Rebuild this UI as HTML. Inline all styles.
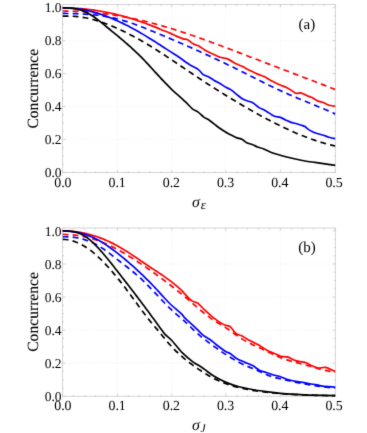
<!DOCTYPE html>
<html><head><meta charset="utf-8"><title>Concurrence</title>
<style>
html,body{margin:0;padding:0;background:#fff;}
body{width:367px;height:433px;overflow:hidden;font-family:"Liberation Serif",serif;}
svg{display:block;will-change:transform;}
text{font-family:"Liberation Serif",serif;fill:#000;text-rendering:geometricPrecision;}
</style></head><body>
<svg width="367" height="433" viewBox="0 0 367 433">
<defs><filter id="soft" x="0" y="0" width="367" height="433" filterUnits="userSpaceOnUse" color-interpolation-filters="sRGB"><feConvolveMatrix order="3" kernelMatrix="0.01 0.08 0.01 0.08 0.64 0.08 0.01 0.08 0.01" edgeMode="duplicate" preserveAlpha="true"/></filter></defs>
<g filter="url(#soft)">
<rect width="367" height="433" fill="#fff"/>
<g>
<line x1="117.55" y1="4.50" x2="117.55" y2="172.50" stroke="#eeeeee" stroke-width="0.8" stroke-dasharray="1 1.6"/>
<line x1="171.75" y1="4.50" x2="171.75" y2="172.50" stroke="#eeeeee" stroke-width="0.8" stroke-dasharray="1 1.6"/>
<line x1="225.70" y1="4.50" x2="225.70" y2="172.50" stroke="#eeeeee" stroke-width="0.8" stroke-dasharray="1 1.6"/>
<line x1="280.40" y1="4.50" x2="280.40" y2="172.50" stroke="#eeeeee" stroke-width="0.8" stroke-dasharray="1 1.6"/>
<line x1="62.70" y1="139.54" x2="335.20" y2="139.54" stroke="#eeeeee" stroke-width="0.8" stroke-dasharray="1 1.6"/>
<line x1="62.70" y1="106.58" x2="335.20" y2="106.58" stroke="#eeeeee" stroke-width="0.8" stroke-dasharray="1 1.6"/>
<line x1="62.70" y1="73.62" x2="335.20" y2="73.62" stroke="#eeeeee" stroke-width="0.8" stroke-dasharray="1 1.6"/>
<line x1="62.70" y1="40.66" x2="335.20" y2="40.66" stroke="#eeeeee" stroke-width="0.8" stroke-dasharray="1 1.6"/>
<rect x="62.50" y="4.50" width="272.85" height="168.00" fill="none" stroke="#d4d4d4" stroke-width="1"/>
<path d="M62.60 172.50 v-2.60 M62.60 4.50 v2.60 M73.59 172.50 v-1.40 M73.59 4.50 v1.40 M84.58 172.50 v-1.40 M84.58 4.50 v1.40 M95.57 172.50 v-1.40 M95.57 4.50 v1.40 M106.56 172.50 v-1.40 M106.56 4.50 v1.40 M117.55 172.50 v-2.60 M117.55 4.50 v2.60 M128.39 172.50 v-1.40 M128.39 4.50 v1.40 M139.23 172.50 v-1.40 M139.23 4.50 v1.40 M150.07 172.50 v-1.40 M150.07 4.50 v1.40 M160.91 172.50 v-1.40 M160.91 4.50 v1.40 M171.75 172.50 v-2.60 M171.75 4.50 v2.60 M182.54 172.50 v-1.40 M182.54 4.50 v1.40 M193.33 172.50 v-1.40 M193.33 4.50 v1.40 M204.12 172.50 v-1.40 M204.12 4.50 v1.40 M214.91 172.50 v-1.40 M214.91 4.50 v1.40 M225.70 172.50 v-2.60 M225.70 4.50 v2.60 M236.64 172.50 v-1.40 M236.64 4.50 v1.40 M247.58 172.50 v-1.40 M247.58 4.50 v1.40 M258.52 172.50 v-1.40 M258.52 4.50 v1.40 M269.46 172.50 v-1.40 M269.46 4.50 v1.40 M280.40 172.50 v-2.60 M280.40 4.50 v2.60 M291.38 172.50 v-1.40 M291.38 4.50 v1.40 M302.36 172.50 v-1.40 M302.36 4.50 v1.40 M313.34 172.50 v-1.40 M313.34 4.50 v1.40 M324.32 172.50 v-1.40 M324.32 4.50 v1.40 M335.30 172.50 v-2.60 M335.30 4.50 v2.60 M62.70 172.50 h2.60 M335.20 172.50 h-2.60 M62.70 164.26 h1.40 M335.20 164.26 h-1.40 M62.70 156.02 h1.40 M335.20 156.02 h-1.40 M62.70 147.78 h1.40 M335.20 147.78 h-1.40 M62.70 139.54 h2.60 M335.20 139.54 h-2.60 M62.70 131.30 h1.40 M335.20 131.30 h-1.40 M62.70 123.06 h1.40 M335.20 123.06 h-1.40 M62.70 114.82 h1.40 M335.20 114.82 h-1.40 M62.70 106.58 h2.60 M335.20 106.58 h-2.60 M62.70 98.34 h1.40 M335.20 98.34 h-1.40 M62.70 90.10 h1.40 M335.20 90.10 h-1.40 M62.70 81.86 h1.40 M335.20 81.86 h-1.40 M62.70 73.62 h2.60 M335.20 73.62 h-2.60 M62.70 65.38 h1.40 M335.20 65.38 h-1.40 M62.70 57.14 h1.40 M335.20 57.14 h-1.40 M62.70 48.90 h1.40 M335.20 48.90 h-1.40 M62.70 40.66 h2.60 M335.20 40.66 h-2.60 M62.70 32.42 h1.40 M335.20 32.42 h-1.40 M62.70 24.18 h1.40 M335.20 24.18 h-1.40 M62.70 15.94 h1.40 M335.20 15.94 h-1.40 M62.70 7.70 h2.60 M335.20 7.70 h-2.60" stroke="#c6c6c6" stroke-width="0.8" fill="none"/>
<path d="M62.70 7.89C63.26 7.89 64.64 7.90 65.20 7.91C65.76 7.92 67.14 7.94 67.70 7.95C68.26 7.97 69.64 8.01 70.20 8.03C70.76 8.05 72.14 8.10 72.70 8.13C73.26 8.16 74.64 8.23 75.20 8.26C75.76 8.29 77.14 8.38 77.70 8.42C78.26 8.46 79.64 8.56 80.20 8.60C80.76 8.65 82.14 8.77 82.70 8.82C83.26 8.87 84.64 9.01 85.20 9.06C85.76 9.12 87.14 9.27 87.70 9.33C88.26 9.40 89.64 9.56 90.20 9.63C90.76 9.70 92.14 9.88 92.70 9.96C93.26 10.04 94.64 10.23 95.20 10.31C95.76 10.40 97.14 10.61 97.70 10.70C98.26 10.79 99.64 11.01 100.20 11.11C100.76 11.20 102.14 11.45 102.70 11.55C103.26 11.65 104.64 11.91 105.20 12.02C105.76 12.12 107.14 12.40 107.70 12.51C108.26 12.62 109.64 12.91 110.20 13.03C110.76 13.15 112.14 13.46 112.70 13.58C113.26 13.71 114.64 14.03 115.20 14.16C115.76 14.29 117.14 14.63 117.70 14.77C118.26 14.90 119.64 15.26 120.20 15.40C120.76 15.54 122.14 15.91 122.70 16.06C123.26 16.21 124.64 16.59 125.20 16.75C125.76 16.91 127.14 17.30 127.70 17.47C128.26 17.63 129.64 18.04 130.20 18.21C130.76 18.38 132.14 18.81 132.70 18.98C133.26 19.16 134.64 19.60 135.20 19.78C135.76 19.96 137.14 20.42 137.70 20.61C138.26 20.79 139.64 21.27 140.20 21.46C140.76 21.65 142.14 22.14 142.70 22.34C143.26 22.54 144.64 23.04 145.20 23.25C145.76 23.45 147.14 23.97 147.70 24.18C148.26 24.39 149.64 24.93 150.20 25.14C150.76 25.36 152.14 25.90 152.70 26.12C153.26 26.34 154.64 26.90 155.20 27.12C155.76 27.35 157.14 27.91 157.70 28.14C158.26 28.37 159.64 28.94 160.20 29.17C160.76 29.40 161.61 29.77 162.70 30.21C163.79 30.65 168.42 32.46 170.00 33.15C171.58 33.84 175.43 35.77 176.90 36.40C178.37 37.03 182.04 38.51 183.20 38.85C184.36 39.19 186.16 38.92 187.30 39.50C188.44 40.08 192.27 43.40 193.50 44.10C194.73 44.80 197.17 45.16 198.40 45.80C199.63 46.44 203.13 49.06 204.60 49.90C206.07 50.74 209.89 52.58 211.60 53.40C213.31 54.22 218.30 56.72 220.00 57.30C221.70 57.88 225.06 57.84 226.90 58.60C228.74 59.36 234.90 63.24 236.60 64.10C238.30 64.96 240.97 65.71 242.20 66.30C243.43 66.89 246.48 68.78 247.70 69.40C248.92 70.02 251.97 71.32 253.20 71.90C254.43 72.48 257.57 74.13 258.80 74.65C260.03 75.17 263.06 76.01 264.30 76.60C265.54 77.19 268.88 79.38 270.00 80.00C271.12 80.62 273.26 81.64 274.40 82.20C275.54 82.76 278.91 84.39 280.30 85.00C281.69 85.61 285.71 87.13 286.90 87.70C288.09 88.27 290.00 89.48 291.00 90.10C292.00 90.72 294.82 92.99 295.90 93.30C296.98 93.61 299.69 92.75 300.70 92.90C301.71 93.05 304.19 94.29 305.00 94.65C305.81 95.01 307.17 95.76 308.00 96.10C308.83 96.44 311.39 97.14 312.50 97.70C313.61 98.26 316.79 100.57 318.00 101.10C319.21 101.63 322.19 102.04 323.40 102.50C324.61 102.96 327.59 104.79 328.90 105.20C330.21 105.61 333.80 105.98 335.20 106.20" fill="none" stroke="#f00" stroke-width="1.7" stroke-linejoin="round"/>
<path d="M62.70 11.02C63.53 11.02 64.37 11.03 65.20 11.03C66.03 11.04 66.87 11.06 67.70 11.07C68.53 11.09 69.37 11.10 70.20 11.12C71.03 11.15 71.87 11.17 72.70 11.20C73.53 11.23 74.37 11.26 75.20 11.29C76.03 11.32 76.87 11.36 77.70 11.40C78.53 11.44 79.37 11.48 80.20 11.53C81.03 11.58 81.87 11.63 82.70 11.68C83.53 11.73 84.37 11.79 85.20 11.85C86.03 11.90 86.87 11.97 87.70 12.03C88.53 12.10 89.37 12.16 90.20 12.23C91.03 12.31 91.87 12.38 92.70 12.46C93.53 12.53 94.37 12.62 95.20 12.70C96.03 12.78 96.87 12.87 97.70 12.96C98.53 13.05 99.37 13.14 100.20 13.24C101.03 13.33 101.87 13.43 102.70 13.53C103.53 13.63 104.37 13.74 105.20 13.85C106.03 13.95 106.87 14.07 107.70 14.18C108.53 14.29 109.37 14.41 110.20 14.53C111.03 14.65 111.87 14.77 112.70 14.90C113.53 15.03 114.37 15.15 115.20 15.29C116.03 15.42 116.87 15.55 117.70 15.69C118.53 15.83 119.37 15.97 120.20 16.12C121.03 16.26 121.87 16.41 122.70 16.56C123.53 16.71 124.37 16.86 125.20 17.02C126.03 17.17 126.87 17.33 127.70 17.49C128.53 17.65 129.37 17.82 130.20 17.99C131.03 18.16 131.87 18.33 132.70 18.50C133.53 18.67 134.37 18.85 135.20 19.03C136.03 19.21 136.87 19.39 137.70 19.58C138.53 19.76 139.37 19.95 140.20 20.14C141.03 20.34 141.87 20.53 142.70 20.73C143.53 20.93 144.37 21.13 145.20 21.33C146.03 21.53 146.87 21.74 147.70 21.95C148.53 22.16 149.37 22.37 150.20 22.58C151.03 22.80 151.87 23.01 152.70 23.23C153.53 23.45 154.37 23.68 155.20 23.90C156.03 24.13 156.87 24.35 157.70 24.58C158.53 24.82 159.37 25.05 160.20 25.28C161.03 25.52 161.87 25.76 162.70 26.00C163.53 26.24 164.37 26.48 165.20 26.72C166.03 26.97 166.87 27.22 167.70 27.47C168.53 27.72 169.37 27.97 170.20 28.22C171.03 28.48 171.87 28.73 172.70 28.99C173.53 29.25 174.37 29.51 175.20 29.77C176.03 30.03 176.87 30.30 177.70 30.56C178.53 30.83 179.37 31.10 180.20 31.37C181.03 31.64 181.87 31.91 182.70 32.19C183.53 32.46 184.37 32.74 185.20 33.01C186.03 33.29 186.87 33.57 187.70 33.85C188.53 34.13 189.37 34.41 190.20 34.70C191.03 34.98 191.87 35.27 192.70 35.56C193.53 35.84 194.37 36.13 195.20 36.42C196.03 36.71 196.87 37.00 197.70 37.30C198.53 37.59 199.37 37.89 200.20 38.18C201.03 38.48 201.87 38.77 202.70 39.07C203.53 39.37 204.37 39.67 205.20 39.97C206.03 40.27 206.87 40.57 207.70 40.88C208.53 41.18 209.37 41.49 210.20 41.79C211.03 42.10 211.87 42.40 212.70 42.71C213.53 43.02 214.37 43.32 215.20 43.63C216.03 43.94 216.87 44.25 217.70 44.56C218.53 44.87 219.37 45.19 220.20 45.50C221.03 45.81 221.87 46.12 222.70 46.44C223.53 46.75 224.37 47.07 225.20 47.38C226.03 47.70 226.87 48.01 227.70 48.33C228.53 48.64 229.37 48.96 230.20 49.28C231.03 49.59 231.87 49.91 232.70 50.23C233.53 50.55 234.37 50.87 235.20 51.19C236.03 51.50 236.87 51.82 237.70 52.14C238.53 52.46 239.37 52.78 240.20 53.10C241.03 53.42 241.87 53.74 242.70 54.06C243.53 54.38 244.37 54.70 245.20 55.02C246.03 55.34 246.87 55.66 247.70 55.98C248.53 56.30 249.37 56.62 250.20 56.94C251.03 57.26 251.87 57.58 252.70 57.90C253.53 58.22 254.37 58.54 255.20 58.85C256.03 59.17 256.87 59.49 257.70 59.81C258.53 60.13 259.37 60.45 260.20 60.77C261.03 61.09 261.87 61.40 262.70 61.72C263.53 62.04 264.37 62.36 265.20 62.68C266.03 62.99 266.87 63.31 267.70 63.63C268.53 63.95 269.37 64.26 270.20 64.58C271.03 64.90 271.87 65.22 272.70 65.53C273.53 65.85 274.37 66.17 275.20 66.49C276.03 66.80 276.87 67.12 277.70 67.44C278.53 67.76 279.37 68.07 280.20 68.39C281.03 68.71 281.87 69.02 282.70 69.34C283.53 69.66 284.37 69.98 285.20 70.29C286.03 70.61 286.87 70.93 287.70 71.25C288.53 71.56 289.37 71.88 290.20 72.20C291.03 72.51 291.87 72.83 292.70 73.15C293.53 73.47 294.37 73.78 295.20 74.10C296.03 74.42 296.87 74.74 297.70 75.06C298.53 75.37 299.37 75.69 300.20 76.01C301.03 76.33 301.87 76.65 302.70 76.96C303.53 77.28 304.37 77.60 305.20 77.92C306.03 78.24 306.87 78.56 307.70 78.88C308.53 79.19 309.37 79.51 310.20 79.83C311.03 80.15 311.87 80.47 312.70 80.79C313.53 81.11 314.37 81.43 315.20 81.75C316.03 82.07 316.87 82.39 317.70 82.71C318.53 83.03 319.37 83.35 320.20 83.67C321.03 83.99 321.87 84.32 322.70 84.64C323.53 84.96 324.37 85.28 325.20 85.60C326.03 85.92 326.87 86.25 327.70 86.57C328.53 86.89 329.37 87.22 330.20 87.54C331.03 87.86 331.87 88.19 332.70 88.51C333.53 88.83 334.37 89.16 335.20 89.48" fill="none" stroke="#f00" stroke-width="1.7" stroke-linejoin="round" stroke-dasharray="5.8 4.2"/>
<path d="M62.70 7.80C63.26 7.80 64.64 7.81 65.20 7.82C65.76 7.84 67.14 7.88 67.70 7.91C68.26 7.93 69.64 8.01 70.20 8.05C70.76 8.09 72.14 8.20 72.70 8.25C73.26 8.30 74.64 8.44 75.20 8.51C75.76 8.57 77.14 8.75 77.70 8.82C78.26 8.90 79.64 9.11 80.20 9.20C80.76 9.29 82.14 9.53 82.70 9.63C83.26 9.73 84.64 10.00 85.20 10.11C85.76 10.23 87.14 10.53 87.70 10.66C88.26 10.78 89.64 11.11 90.20 11.25C90.76 11.39 92.14 11.75 92.70 11.90C93.26 12.05 94.64 12.44 95.20 12.60C95.76 12.76 97.14 13.18 97.70 13.35C98.26 13.52 99.64 13.96 100.20 14.15C100.76 14.33 102.14 14.80 102.70 14.99C103.26 15.19 104.64 15.68 105.20 15.89C105.76 16.09 107.14 16.61 107.70 16.82C108.26 17.04 109.64 17.58 110.20 17.81C110.76 18.03 112.14 18.60 112.70 18.84C113.26 19.07 114.64 19.66 115.20 19.90C115.76 20.15 117.14 20.76 117.70 21.01C118.26 21.27 119.64 21.91 120.20 22.17C120.76 22.43 122.14 23.09 122.70 23.36C123.26 23.62 124.64 24.31 125.20 24.58C125.76 24.86 127.14 25.56 127.70 25.85C128.26 26.13 129.64 26.85 130.20 27.15C130.76 27.44 132.14 28.18 132.70 28.48C133.26 28.78 134.64 29.54 135.20 29.85C135.76 30.16 137.14 30.94 137.70 31.25C138.26 31.56 139.64 32.36 140.20 32.68C140.76 33.00 142.14 33.81 142.70 34.14C143.26 34.47 144.64 35.30 145.20 35.63C145.76 35.97 147.14 36.81 147.70 37.15C148.26 37.49 149.64 38.35 150.20 38.69C150.76 39.04 152.14 39.91 152.70 40.26C153.26 40.61 154.64 41.48 155.20 41.84C155.76 42.19 157.14 43.08 157.70 43.44C158.26 43.79 159.64 44.69 160.20 45.05C160.76 45.40 161.61 45.96 162.70 46.67C163.79 47.37 168.42 50.36 170.00 51.36C171.58 52.37 175.36 54.66 176.90 55.70C178.44 56.74 182.36 59.62 183.90 60.70C185.44 61.78 189.19 64.41 190.80 65.40C192.41 66.39 197.02 68.58 198.40 69.60C199.78 70.62 202.04 73.79 203.20 74.60C204.36 75.41 207.57 76.26 208.80 76.90C210.03 77.54 213.06 79.66 214.30 80.40C215.54 81.14 218.76 82.87 220.00 83.60C221.24 84.33 224.27 86.30 225.50 87.00C226.73 87.70 229.87 89.09 231.10 89.90C232.33 90.71 235.37 93.32 236.60 94.30C237.83 95.28 240.97 98.01 242.20 98.75C243.43 99.49 246.48 100.54 247.70 101.00C248.92 101.46 251.94 102.17 253.20 102.90C254.46 103.63 257.88 106.87 259.00 107.60C260.12 108.33 262.20 108.91 263.30 109.50C264.40 110.09 267.67 112.14 268.90 112.90C270.13 113.66 273.13 115.80 274.40 116.30C275.67 116.80 279.07 117.00 280.30 117.40C281.53 117.80 284.31 119.34 285.50 119.90C286.69 120.46 289.77 121.98 291.00 122.40C292.23 122.82 295.42 123.38 296.60 123.70C297.78 124.02 300.67 124.99 301.60 125.30C302.53 125.61 304.29 126.08 305.00 126.50C305.71 126.92 307.17 128.51 308.00 129.10C308.83 129.69 311.39 131.28 312.50 131.80C313.61 132.32 316.79 133.42 318.00 133.80C319.21 134.18 322.19 134.82 323.40 135.20C324.61 135.58 327.59 136.82 328.90 137.20C330.21 137.58 333.80 138.29 335.20 138.60" fill="none" stroke="#00f" stroke-width="1.7" stroke-linejoin="round"/>
<path d="M62.70 13.46C63.53 13.46 64.37 13.46 65.20 13.47C66.03 13.47 66.87 13.48 67.70 13.49C68.53 13.50 69.37 13.51 70.20 13.53C71.03 13.55 71.87 13.57 72.70 13.59C73.53 13.61 74.37 13.63 75.20 13.66C76.03 13.69 76.87 13.72 77.70 13.75C78.53 13.78 79.37 13.82 80.20 13.86C81.03 13.90 81.87 13.94 82.70 13.99C83.53 14.03 84.37 14.08 85.20 14.13C86.03 14.19 86.87 14.24 87.70 14.31C88.53 14.37 89.37 14.43 90.20 14.50C91.03 14.58 91.87 14.65 92.70 14.73C93.53 14.81 94.37 14.90 95.20 14.99C96.03 15.08 96.87 15.17 97.70 15.27C98.53 15.37 99.37 15.48 100.20 15.59C101.03 15.71 101.87 15.82 102.70 15.95C103.53 16.08 104.37 16.21 105.20 16.34C106.03 16.48 106.87 16.63 107.70 16.78C108.53 16.93 109.37 17.09 110.20 17.25C111.03 17.42 111.87 17.59 112.70 17.77C113.53 17.95 114.37 18.14 115.20 18.34C116.03 18.53 116.87 18.74 117.70 18.95C118.53 19.16 119.37 19.38 120.20 19.61C121.03 19.84 121.87 20.07 122.70 20.32C123.53 20.56 124.37 20.81 125.20 21.07C126.03 21.32 126.87 21.59 127.70 21.86C128.53 22.13 129.37 22.41 130.20 22.69C131.03 22.97 131.87 23.26 132.70 23.55C133.53 23.84 134.37 24.14 135.20 24.44C136.03 24.75 136.87 25.06 137.70 25.37C138.53 25.68 139.37 26.00 140.20 26.31C141.03 26.63 141.87 26.96 142.70 27.28C143.53 27.61 144.37 27.94 145.20 28.27C146.03 28.60 146.87 28.94 147.70 29.27C148.53 29.61 149.37 29.95 150.20 30.29C151.03 30.63 151.87 30.97 152.70 31.32C153.53 31.66 154.37 32.00 155.20 32.35C156.03 32.69 156.87 33.04 157.70 33.38C158.53 33.73 159.37 34.08 160.20 34.43C161.03 34.77 161.87 35.12 162.70 35.47C163.53 35.82 164.37 36.17 165.20 36.52C166.03 36.87 166.87 37.23 167.70 37.58C168.53 37.93 169.37 38.29 170.20 38.64C171.03 38.99 171.87 39.35 172.70 39.71C173.53 40.06 174.37 40.42 175.20 40.78C176.03 41.13 176.87 41.49 177.70 41.85C178.53 42.21 179.37 42.57 180.20 42.93C181.03 43.30 181.87 43.66 182.70 44.02C183.53 44.39 184.37 44.75 185.20 45.12C186.03 45.48 186.87 45.85 187.70 46.21C188.53 46.58 189.37 46.95 190.20 47.32C191.03 47.69 191.87 48.06 192.70 48.43C193.53 48.80 194.37 49.17 195.20 49.54C196.03 49.92 196.87 50.29 197.70 50.67C198.53 51.04 199.37 51.42 200.20 51.80C201.03 52.17 201.87 52.55 202.70 52.93C203.53 53.31 204.37 53.69 205.20 54.07C206.03 54.45 206.87 54.84 207.70 55.22C208.53 55.61 209.37 55.99 210.20 56.38C211.03 56.76 211.87 57.15 212.70 57.54C213.53 57.93 214.37 58.32 215.20 58.71C216.03 59.10 216.87 59.49 217.70 59.88C218.53 60.27 219.37 60.67 220.20 61.06C221.03 61.46 221.87 61.86 222.70 62.25C223.53 62.65 224.37 63.05 225.20 63.45C226.03 63.85 226.87 64.25 227.70 64.66C228.53 65.06 229.37 65.46 230.20 65.87C231.03 66.27 231.87 66.68 232.70 67.09C233.53 67.49 234.37 67.90 235.20 68.31C236.03 68.72 236.87 69.13 237.70 69.54C238.53 69.95 239.37 70.37 240.20 70.78C241.03 71.19 241.87 71.61 242.70 72.02C243.53 72.44 244.37 72.86 245.20 73.27C246.03 73.69 246.87 74.11 247.70 74.53C248.53 74.95 249.37 75.37 250.20 75.79C251.03 76.21 251.87 76.63 252.70 77.05C253.53 77.47 254.37 77.89 255.20 78.32C256.03 78.74 256.87 79.17 257.70 79.59C258.53 80.01 259.37 80.44 260.20 80.86C261.03 81.28 261.87 81.70 262.70 82.12C263.53 82.54 264.37 82.96 265.20 83.38C266.03 83.80 266.87 84.21 267.70 84.62C268.53 85.04 269.37 85.44 270.20 85.85C271.03 86.25 271.87 86.65 272.70 87.05C273.53 87.45 274.37 87.84 275.20 88.24C276.03 88.63 276.87 89.02 277.70 89.40C278.53 89.79 279.37 90.17 280.20 90.55C281.03 90.93 281.87 91.30 282.70 91.68C283.53 92.05 284.37 92.42 285.20 92.79C286.03 93.16 286.87 93.52 287.70 93.89C288.53 94.25 289.37 94.61 290.20 94.97C291.03 95.33 291.87 95.69 292.70 96.05C293.53 96.40 294.37 96.76 295.20 97.11C296.03 97.46 296.87 97.81 297.70 98.16C298.53 98.51 299.37 98.86 300.20 99.21C301.03 99.56 301.87 99.90 302.70 100.25C303.53 100.59 304.37 100.93 305.20 101.28C306.03 101.62 306.87 101.96 307.70 102.30C308.53 102.65 309.37 102.99 310.20 103.33C311.03 103.67 311.87 104.01 312.70 104.35C313.53 104.69 314.37 105.03 315.20 105.38C316.03 105.72 316.87 106.06 317.70 106.41C318.53 106.75 319.37 107.10 320.20 107.44C321.03 107.79 321.87 108.14 322.70 108.49C323.53 108.84 324.37 109.19 325.20 109.54C326.03 109.90 326.87 110.25 327.70 110.61C328.53 110.97 329.37 111.33 330.20 111.69C331.03 112.06 331.87 112.42 332.70 112.79C333.53 113.17 334.37 113.54 335.20 113.92" fill="none" stroke="#00f" stroke-width="1.7" stroke-linejoin="round" stroke-dasharray="5.8 4.2"/>
<path d="M62.70 7.86C63.26 7.86 64.64 7.87 65.20 7.88C65.76 7.90 67.14 7.95 67.70 7.98C68.26 8.00 69.64 8.10 70.20 8.15C70.76 8.20 72.14 8.35 72.70 8.43C73.26 8.50 74.64 8.72 75.20 8.82C75.76 8.92 77.14 9.21 77.70 9.34C78.26 9.47 79.64 9.84 80.20 10.01C80.76 10.17 82.14 10.63 82.70 10.83C83.26 11.03 84.64 11.59 85.20 11.83C85.76 12.07 87.14 12.73 87.70 13.01C88.26 13.30 89.64 14.07 90.20 14.40C90.76 14.73 92.14 15.62 92.70 15.99C93.26 16.36 94.64 17.35 95.20 17.76C95.76 18.16 97.14 19.22 97.70 19.65C98.26 20.08 99.64 21.19 100.20 21.63C100.76 22.08 102.14 23.21 102.70 23.67C103.26 24.12 104.64 25.25 105.20 25.71C105.76 26.16 107.14 27.29 107.70 27.74C108.26 28.20 109.64 29.33 110.20 29.78C110.76 30.23 112.14 31.37 112.70 31.82C113.26 32.28 114.64 33.42 115.20 33.88C115.76 34.34 117.14 35.49 117.70 35.95C118.26 36.41 119.64 37.57 120.20 38.04C120.76 38.51 122.14 39.69 122.70 40.16C123.26 40.63 124.64 41.83 125.20 42.31C125.76 42.79 127.14 44.00 127.70 44.49C128.26 44.99 129.64 46.22 130.20 46.72C130.76 47.22 132.14 48.49 132.70 49.00C133.26 49.51 134.64 50.80 135.20 51.32C135.76 51.84 137.14 53.17 137.70 53.70C138.26 54.24 139.64 55.60 140.20 56.15C140.76 56.70 142.14 58.09 142.70 58.66C143.26 59.23 144.64 60.66 145.20 61.24C145.76 61.83 147.14 63.30 147.70 63.90C148.26 64.49 149.64 65.99 150.20 66.60C150.76 67.20 152.14 68.72 152.70 69.33C153.26 69.94 154.64 71.47 155.20 72.08C155.76 72.69 157.14 74.22 157.70 74.82C158.26 75.43 159.64 76.94 160.20 77.54C160.76 78.14 162.14 79.63 162.70 80.21C163.26 80.80 164.21 81.80 165.20 82.83C166.19 83.86 170.28 88.17 171.65 89.48C173.02 90.79 175.93 93.19 177.50 94.60C179.07 96.01 184.11 100.59 185.80 102.20C187.49 103.81 191.32 108.00 192.70 109.10C194.08 110.20 196.97 111.21 198.20 112.10C199.43 112.99 202.57 116.20 203.80 117.10C205.03 118.00 208.06 119.37 209.30 120.20C210.54 121.03 214.00 123.82 215.00 124.60C216.00 125.38 217.13 126.39 218.30 127.20C219.47 128.01 223.96 130.98 225.50 131.90C227.04 132.82 230.92 134.84 232.20 135.50C233.48 136.16 235.92 137.44 237.00 137.85C238.08 138.26 240.82 138.66 241.90 139.20C242.98 139.74 245.48 142.08 246.70 142.70C247.92 143.32 251.70 144.32 252.90 144.80C254.10 145.28 256.34 146.56 257.50 147.00C258.66 147.44 261.89 148.24 263.30 148.80C264.71 149.36 268.31 151.29 270.20 152.00C272.09 152.71 277.99 154.53 280.30 155.20C282.61 155.87 288.26 157.36 291.00 158.00C293.74 158.64 302.33 160.51 305.00 161.00C307.67 161.49 312.78 162.08 315.00 162.40C317.22 162.72 322.76 163.57 325.00 163.90C327.24 164.23 332.93 165.07 335.20 165.40" fill="none" stroke="#000" stroke-width="1.7" stroke-linejoin="round"/>
<path d="M62.70 16.06C63.53 16.06 64.37 16.05 65.20 16.05C66.03 16.06 66.87 16.06 67.70 16.07C68.53 16.09 69.37 16.11 70.20 16.13C71.03 16.16 71.87 16.20 72.70 16.24C73.53 16.29 74.37 16.34 75.20 16.41C76.03 16.48 76.87 16.55 77.70 16.64C78.53 16.74 79.37 16.84 80.20 16.95C81.03 17.07 81.87 17.19 82.70 17.33C83.53 17.47 84.37 17.62 85.20 17.78C86.03 17.94 86.87 18.11 87.70 18.29C88.53 18.47 89.37 18.66 90.20 18.86C91.03 19.06 91.87 19.28 92.70 19.50C93.53 19.72 94.37 19.95 95.20 20.19C96.03 20.43 96.87 20.67 97.70 20.93C98.53 21.19 99.37 21.45 100.20 21.73C101.03 22.00 101.87 22.28 102.70 22.57C103.53 22.86 104.37 23.16 105.20 23.46C106.03 23.77 106.87 24.08 107.70 24.40C108.53 24.72 109.37 25.05 110.20 25.38C111.03 25.71 111.87 26.06 112.70 26.40C113.53 26.75 114.37 27.11 115.20 27.47C116.03 27.83 116.87 28.20 117.70 28.57C118.53 28.94 119.37 29.32 120.20 29.71C121.03 30.10 121.87 30.49 122.70 30.89C123.53 31.29 124.37 31.69 125.20 32.10C126.03 32.51 126.87 32.93 127.70 33.35C128.53 33.77 129.37 34.20 130.20 34.64C131.03 35.07 131.87 35.51 132.70 35.95C133.53 36.40 134.37 36.84 135.20 37.30C136.03 37.75 136.87 38.21 137.70 38.68C138.53 39.14 139.37 39.61 140.20 40.09C141.03 40.56 141.87 41.04 142.70 41.52C143.53 42.00 144.37 42.49 145.20 42.99C146.03 43.48 146.87 43.97 147.70 44.47C148.53 44.98 149.37 45.48 150.20 45.99C151.03 46.50 151.87 47.01 152.70 47.53C153.53 48.05 154.37 48.57 155.20 49.09C156.03 49.61 156.87 50.14 157.70 50.67C158.53 51.20 159.37 51.74 160.20 52.28C161.03 52.82 161.87 53.36 162.70 53.90C163.53 54.44 164.37 54.99 165.20 55.54C166.03 56.09 166.87 56.64 167.70 57.19C168.53 57.74 169.37 58.30 170.20 58.85C171.03 59.41 171.87 59.97 172.70 60.53C173.53 61.09 174.37 61.65 175.20 62.21C176.03 62.77 176.87 63.34 177.70 63.90C178.53 64.46 179.37 65.03 180.20 65.59C181.03 66.16 181.87 66.72 182.70 67.29C183.53 67.85 184.37 68.42 185.20 68.98C186.03 69.55 186.87 70.11 187.70 70.68C188.53 71.24 189.37 71.80 190.20 72.36C191.03 72.93 191.87 73.49 192.70 74.05C193.53 74.61 194.37 75.16 195.20 75.72C196.03 76.28 196.87 76.83 197.70 77.38C198.53 77.94 199.37 78.49 200.20 79.04C201.03 79.58 201.87 80.13 202.70 80.68C203.53 81.22 204.37 81.76 205.20 82.30C206.03 82.84 206.87 83.38 207.70 83.92C208.53 84.46 209.37 84.99 210.20 85.52C211.03 86.06 211.87 86.59 212.70 87.12C213.53 87.65 214.37 88.18 215.20 88.70C216.03 89.23 216.87 89.75 217.70 90.27C218.53 90.79 219.37 91.32 220.20 91.83C221.03 92.35 221.87 92.87 222.70 93.38C223.53 93.90 224.37 94.41 225.20 94.93C226.03 95.44 226.87 95.95 227.70 96.46C228.53 96.96 229.37 97.47 230.20 97.98C231.03 98.48 231.87 98.99 232.70 99.49C233.53 99.99 234.37 100.49 235.20 100.99C236.03 101.49 236.87 101.99 237.70 102.48C238.53 102.98 239.37 103.47 240.20 103.97C241.03 104.46 241.87 104.95 242.70 105.44C243.53 105.93 244.37 106.42 245.20 106.91C246.03 107.40 246.87 107.88 247.70 108.37C248.53 108.85 249.37 109.33 250.20 109.82C251.03 110.30 251.87 110.78 252.70 111.25C253.53 111.73 254.37 112.20 255.20 112.67C256.03 113.14 256.87 113.61 257.70 114.08C258.53 114.54 259.37 115.00 260.20 115.45C261.03 115.91 261.87 116.36 262.70 116.81C263.53 117.25 264.37 117.70 265.20 118.14C266.03 118.58 266.87 119.01 267.70 119.45C268.53 119.88 269.37 120.31 270.20 120.74C271.03 121.17 271.87 121.59 272.70 122.01C273.53 122.44 274.37 122.85 275.20 123.27C276.03 123.69 276.87 124.10 277.70 124.51C278.53 124.93 279.37 125.34 280.20 125.74C281.03 126.15 281.87 126.56 282.70 126.96C283.53 127.36 284.37 127.76 285.20 128.16C286.03 128.56 286.87 128.95 287.70 129.34C288.53 129.73 289.37 130.11 290.20 130.49C291.03 130.87 291.87 131.25 292.70 131.62C293.53 131.99 294.37 132.35 295.20 132.71C296.03 133.08 296.87 133.43 297.70 133.78C298.53 134.14 299.37 134.48 300.20 134.82C301.03 135.17 301.87 135.50 302.70 135.83C303.53 136.17 304.37 136.49 305.20 136.81C306.03 137.14 306.87 137.45 307.70 137.76C308.53 138.07 309.37 138.38 310.20 138.68C311.03 138.98 311.87 139.28 312.70 139.57C313.53 139.86 314.37 140.14 315.20 140.42C316.03 140.70 316.87 140.97 317.70 141.24C318.53 141.51 319.37 141.77 320.20 142.02C321.03 142.28 321.87 142.53 322.70 142.78C323.53 143.02 324.37 143.26 325.20 143.49C326.03 143.72 326.87 143.95 327.70 144.17C328.53 144.39 329.37 144.61 330.20 144.82C331.03 145.03 331.87 145.23 332.70 145.42C333.53 145.62 334.37 145.80 335.20 145.99" fill="none" stroke="#000" stroke-width="1.7" stroke-linejoin="round" stroke-dasharray="5.8 4.2"/>
<text x="61.50" y="177.20" font-size="13.5" text-anchor="end">0.0</text>
<text x="61.50" y="144.24" font-size="13.5" text-anchor="end">0.2</text>
<text x="61.50" y="111.28" font-size="13.5" text-anchor="end">0.4</text>
<text x="61.50" y="78.32" font-size="13.5" text-anchor="end">0.6</text>
<text x="61.50" y="45.36" font-size="13.5" text-anchor="end">0.8</text>
<text x="61.50" y="12.40" font-size="13.5" text-anchor="end">1.0</text>
<text x="62.90" y="186.50" font-size="13.9" text-anchor="middle">0.0</text>
<text x="117.14" y="186.50" font-size="13.9" text-anchor="middle">0.1</text>
<text x="171.38" y="186.50" font-size="13.9" text-anchor="middle">0.2</text>
<text x="225.62" y="186.50" font-size="13.9" text-anchor="middle">0.3</text>
<text x="279.86" y="186.50" font-size="13.9" text-anchor="middle">0.4</text>
<text x="334.10" y="186.50" font-size="13.9" text-anchor="middle">0.5</text>
<text transform="translate(38.4 88.75) rotate(-90)" font-size="15.6" text-anchor="middle" stroke="#000" stroke-width="0.1">Concurrence</text>
<text x="192" y="206.70" font-size="16" font-style="italic">σ<tspan font-size="13" dx="0.9" dy="2.4">ε</tspan></text>
<text x="306.9" y="29.35" font-size="15" text-anchor="middle">(a)</text>
</g>
<g>
<line x1="117.55" y1="228.00" x2="117.55" y2="396.30" stroke="#eeeeee" stroke-width="0.8" stroke-dasharray="1 1.6"/>
<line x1="171.75" y1="228.00" x2="171.75" y2="396.30" stroke="#eeeeee" stroke-width="0.8" stroke-dasharray="1 1.6"/>
<line x1="225.70" y1="228.00" x2="225.70" y2="396.30" stroke="#eeeeee" stroke-width="0.8" stroke-dasharray="1 1.6"/>
<line x1="280.40" y1="228.00" x2="280.40" y2="396.30" stroke="#eeeeee" stroke-width="0.8" stroke-dasharray="1 1.6"/>
<line x1="62.70" y1="363.22" x2="335.20" y2="363.22" stroke="#eeeeee" stroke-width="0.8" stroke-dasharray="1 1.6"/>
<line x1="62.70" y1="330.14" x2="335.20" y2="330.14" stroke="#eeeeee" stroke-width="0.8" stroke-dasharray="1 1.6"/>
<line x1="62.70" y1="297.06" x2="335.20" y2="297.06" stroke="#eeeeee" stroke-width="0.8" stroke-dasharray="1 1.6"/>
<line x1="62.70" y1="263.98" x2="335.20" y2="263.98" stroke="#eeeeee" stroke-width="0.8" stroke-dasharray="1 1.6"/>
<rect x="62.50" y="228.00" width="272.85" height="168.30" fill="none" stroke="#d4d4d4" stroke-width="1"/>
<path d="M62.60 396.30 v-2.60 M62.60 228.00 v2.60 M73.59 396.30 v-1.40 M73.59 228.00 v1.40 M84.58 396.30 v-1.40 M84.58 228.00 v1.40 M95.57 396.30 v-1.40 M95.57 228.00 v1.40 M106.56 396.30 v-1.40 M106.56 228.00 v1.40 M117.55 396.30 v-2.60 M117.55 228.00 v2.60 M128.39 396.30 v-1.40 M128.39 228.00 v1.40 M139.23 396.30 v-1.40 M139.23 228.00 v1.40 M150.07 396.30 v-1.40 M150.07 228.00 v1.40 M160.91 396.30 v-1.40 M160.91 228.00 v1.40 M171.75 396.30 v-2.60 M171.75 228.00 v2.60 M182.54 396.30 v-1.40 M182.54 228.00 v1.40 M193.33 396.30 v-1.40 M193.33 228.00 v1.40 M204.12 396.30 v-1.40 M204.12 228.00 v1.40 M214.91 396.30 v-1.40 M214.91 228.00 v1.40 M225.70 396.30 v-2.60 M225.70 228.00 v2.60 M236.64 396.30 v-1.40 M236.64 228.00 v1.40 M247.58 396.30 v-1.40 M247.58 228.00 v1.40 M258.52 396.30 v-1.40 M258.52 228.00 v1.40 M269.46 396.30 v-1.40 M269.46 228.00 v1.40 M280.40 396.30 v-2.60 M280.40 228.00 v2.60 M291.38 396.30 v-1.40 M291.38 228.00 v1.40 M302.36 396.30 v-1.40 M302.36 228.00 v1.40 M313.34 396.30 v-1.40 M313.34 228.00 v1.40 M324.32 396.30 v-1.40 M324.32 228.00 v1.40 M335.30 396.30 v-2.60 M335.30 228.00 v2.60 M62.70 396.30 h2.60 M335.20 396.30 h-2.60 M62.70 388.03 h1.40 M335.20 388.03 h-1.40 M62.70 379.76 h1.40 M335.20 379.76 h-1.40 M62.70 371.49 h1.40 M335.20 371.49 h-1.40 M62.70 363.22 h2.60 M335.20 363.22 h-2.60 M62.70 354.95 h1.40 M335.20 354.95 h-1.40 M62.70 346.68 h1.40 M335.20 346.68 h-1.40 M62.70 338.41 h1.40 M335.20 338.41 h-1.40 M62.70 330.14 h2.60 M335.20 330.14 h-2.60 M62.70 321.87 h1.40 M335.20 321.87 h-1.40 M62.70 313.60 h1.40 M335.20 313.60 h-1.40 M62.70 305.33 h1.40 M335.20 305.33 h-1.40 M62.70 297.06 h2.60 M335.20 297.06 h-2.60 M62.70 288.79 h1.40 M335.20 288.79 h-1.40 M62.70 280.52 h1.40 M335.20 280.52 h-1.40 M62.70 272.25 h1.40 M335.20 272.25 h-1.40 M62.70 263.98 h2.60 M335.20 263.98 h-2.60 M62.70 255.71 h1.40 M335.20 255.71 h-1.40 M62.70 247.44 h1.40 M335.20 247.44 h-1.40 M62.70 239.17 h1.40 M335.20 239.17 h-1.40 M62.70 230.90 h2.60 M335.20 230.90 h-2.60" stroke="#c6c6c6" stroke-width="0.8" fill="none"/>
<path d="M62.70 230.90C63.26 230.90 64.64 230.91 65.20 230.92C65.76 230.94 67.14 230.98 67.70 231.01C68.26 231.04 69.64 231.12 70.20 231.16C70.76 231.20 72.14 231.32 72.70 231.37C73.26 231.43 74.64 231.58 75.20 231.65C75.76 231.71 77.14 231.90 77.70 231.98C78.26 232.06 79.64 232.29 80.20 232.38C80.76 232.48 82.14 232.74 82.70 232.85C83.26 232.96 84.64 233.25 85.20 233.37C85.76 233.50 87.14 233.82 87.70 233.96C88.26 234.10 89.64 234.46 90.20 234.61C90.76 234.77 92.14 235.16 92.70 235.33C93.26 235.50 94.64 235.93 95.20 236.11C95.76 236.29 97.14 236.76 97.70 236.95C98.26 237.15 99.64 237.65 100.20 237.86C100.76 238.07 102.14 238.61 102.70 238.83C103.26 239.06 104.64 239.63 105.20 239.87C105.76 240.11 107.14 240.72 107.70 240.97C108.26 241.22 109.64 241.87 110.20 242.14C110.76 242.40 112.14 243.09 112.70 243.37C113.26 243.65 114.64 244.37 115.20 244.66C115.76 244.96 117.14 245.71 117.70 246.02C118.26 246.33 119.64 247.12 120.20 247.44C120.76 247.77 122.14 248.59 122.70 248.92C123.26 249.26 124.64 250.11 125.20 250.46C125.76 250.80 127.14 251.68 127.70 252.03C128.26 252.39 129.64 253.29 130.20 253.65C130.76 254.01 132.14 254.93 132.70 255.30C133.26 255.66 134.64 256.59 135.20 256.97C135.76 257.34 137.14 258.28 137.70 258.66C138.26 259.04 139.64 259.98 140.20 260.36C140.76 260.74 142.14 261.69 142.70 262.07C143.26 262.45 144.64 263.40 145.20 263.78C145.76 264.15 147.14 265.10 147.70 265.48C148.26 265.85 149.64 266.79 150.20 267.16C150.76 267.53 152.14 268.46 152.70 268.82C153.26 269.19 154.64 270.10 155.20 270.46C155.76 270.82 157.14 271.72 157.70 272.08C158.26 272.44 159.64 273.34 160.20 273.70C160.76 274.06 161.43 274.43 162.70 275.35C163.97 276.26 169.51 280.24 171.60 281.90C173.69 283.56 180.06 288.93 181.55 290.30C183.04 291.67 183.85 293.02 185.00 294.20C186.15 295.38 190.51 299.92 191.90 300.90C193.29 301.88 196.11 302.03 197.50 303.00C198.89 303.97 202.71 308.08 204.40 309.65C206.09 311.22 211.01 315.72 212.70 317.10C214.39 318.48 218.20 321.20 219.60 322.10C221.00 323.00 224.11 324.69 225.30 325.20C226.49 325.71 229.10 325.76 230.30 326.70C231.50 327.64 234.84 332.69 236.10 333.70C237.36 334.71 240.07 335.03 241.60 335.80C243.13 336.57 248.06 339.60 249.90 340.60C251.74 341.60 256.35 343.77 258.20 344.80C260.05 345.83 264.68 348.90 266.55 349.90C268.42 350.90 273.45 353.09 275.00 353.80C276.55 354.51 279.12 355.96 280.50 356.30C281.88 356.64 285.73 356.42 287.40 356.90C289.07 357.38 293.66 360.01 295.50 360.60C297.34 361.19 302.82 361.97 304.00 362.20C305.18 362.43 305.29 362.33 306.10 362.70C306.91 363.07 309.94 364.90 311.30 365.50C312.66 366.10 316.72 367.89 318.30 368.10C319.88 368.31 323.62 367.04 325.50 367.40C327.38 367.76 333.04 370.43 335.20 371.30" fill="none" stroke="#f00" stroke-width="1.7" stroke-linejoin="round"/>
<path d="M62.70 234.47C63.53 234.47 64.37 234.47 65.20 234.49C66.03 234.51 66.87 234.53 67.70 234.57C68.53 234.61 69.37 234.65 70.20 234.71C71.03 234.77 71.87 234.84 72.70 234.91C73.53 234.99 74.37 235.08 75.20 235.18C76.03 235.28 76.87 235.39 77.70 235.51C78.53 235.64 79.37 235.77 80.20 235.91C81.03 236.05 81.87 236.21 82.70 236.37C83.53 236.53 84.37 236.71 85.20 236.90C86.03 237.08 86.87 237.28 87.70 237.49C88.53 237.69 89.37 237.91 90.20 238.14C91.03 238.37 91.87 238.61 92.70 238.86C93.53 239.12 94.37 239.38 95.20 239.65C96.03 239.93 96.87 240.21 97.70 240.51C98.53 240.80 99.37 241.11 100.20 241.43C101.03 241.75 101.87 242.08 102.70 242.42C103.53 242.76 104.37 243.11 105.20 243.47C106.03 243.83 106.87 244.20 107.70 244.59C108.53 244.97 109.37 245.36 110.20 245.76C111.03 246.16 111.87 246.57 112.70 246.99C113.53 247.41 114.37 247.83 115.20 248.27C116.03 248.71 116.87 249.15 117.70 249.60C118.53 250.05 119.37 250.51 120.20 250.98C121.03 251.45 121.87 251.92 122.70 252.41C123.53 252.89 124.37 253.38 125.20 253.87C126.03 254.37 126.87 254.87 127.70 255.38C128.53 255.88 129.37 256.40 130.20 256.92C131.03 257.44 131.87 257.96 132.70 258.49C133.53 259.02 134.37 259.56 135.20 260.10C136.03 260.64 136.87 261.18 137.70 261.73C138.53 262.28 139.37 262.83 140.20 263.39C141.03 263.94 141.87 264.50 142.70 265.07C143.53 265.63 144.37 266.20 145.20 266.77C146.03 267.34 146.87 267.92 147.70 268.50C148.53 269.07 149.37 269.66 150.20 270.24C151.03 270.83 151.87 271.42 152.70 272.01C153.53 272.61 154.37 273.21 155.20 273.81C156.03 274.41 156.87 275.01 157.70 275.62C158.53 276.23 159.37 276.84 160.20 277.46C161.03 278.08 161.87 278.70 162.70 279.32C163.53 279.95 164.37 280.57 165.20 281.20C166.03 281.84 166.87 282.47 167.70 283.11C168.53 283.75 169.37 284.39 170.20 285.04C171.03 285.69 171.87 286.34 172.70 286.99C173.53 287.65 174.37 288.31 175.20 288.97C176.03 289.63 176.87 290.30 177.70 290.97C178.53 291.64 179.37 292.31 180.20 292.99C181.03 293.66 181.87 294.35 182.70 295.03C183.53 295.72 184.37 296.41 185.20 297.10C186.03 297.79 186.87 298.49 187.70 299.19C188.53 299.89 189.37 300.59 190.20 301.30C191.03 302.01 191.87 302.72 192.70 303.44C193.53 304.16 194.37 304.88 195.20 305.60C196.03 306.32 196.87 307.04 197.70 307.76C198.53 308.48 199.37 309.20 200.20 309.91C201.03 310.62 201.87 311.32 202.70 312.01C203.53 312.70 204.37 313.39 205.20 314.05C206.03 314.72 206.87 315.37 207.70 316.00C208.53 316.63 209.37 317.25 210.20 317.84C211.03 318.43 211.87 319.00 212.70 319.56C213.53 320.11 214.37 320.65 215.20 321.18C216.03 321.71 216.87 322.22 217.70 322.74C218.53 323.25 219.37 323.76 220.20 324.27C221.03 324.78 221.87 325.29 222.70 325.81C223.53 326.33 224.37 326.85 225.20 327.39C226.03 327.93 226.87 328.48 227.70 329.05C228.53 329.61 229.37 330.20 230.20 330.78C231.03 331.37 231.87 331.96 232.70 332.56C233.53 333.15 234.37 333.75 235.20 334.34C236.03 334.93 236.87 335.53 237.70 336.10C238.53 336.68 239.37 337.25 240.20 337.80C241.03 338.35 241.87 338.89 242.70 339.40C243.53 339.91 244.37 340.40 245.20 340.88C246.03 341.35 246.87 341.80 247.70 342.24C248.53 342.68 249.37 343.10 250.20 343.51C251.03 343.93 251.87 344.32 252.70 344.72C253.53 345.11 254.37 345.49 255.20 345.87C256.03 346.26 256.87 346.63 257.70 347.01C258.53 347.39 259.37 347.76 260.20 348.15C261.03 348.53 261.87 348.91 262.70 349.31C263.53 349.70 264.37 350.10 265.20 350.50C266.03 350.90 266.87 351.31 267.70 351.72C268.53 352.13 269.37 352.54 270.20 352.94C271.03 353.35 271.87 353.75 272.70 354.15C273.53 354.54 274.37 354.94 275.20 355.32C276.03 355.70 276.87 356.08 277.70 356.44C278.53 356.80 279.37 357.15 280.20 357.48C281.03 357.81 281.87 358.13 282.70 358.44C283.53 358.74 284.37 359.03 285.20 359.31C286.03 359.59 286.87 359.86 287.70 360.11C288.53 360.37 289.37 360.62 290.20 360.86C291.03 361.10 291.87 361.33 292.70 361.56C293.53 361.79 294.37 362.01 295.20 362.24C296.03 362.46 296.87 362.67 297.70 362.89C298.53 363.11 299.37 363.32 300.20 363.54C301.03 363.75 301.87 363.97 302.70 364.19C303.53 364.41 304.37 364.64 305.20 364.87C306.03 365.10 306.87 365.33 307.70 365.57C308.53 365.80 309.37 366.04 310.20 366.28C311.03 366.52 311.87 366.76 312.70 367.00C313.53 367.23 314.37 367.47 315.20 367.71C316.03 367.95 316.87 368.18 317.70 368.41C318.53 368.65 319.37 368.87 320.20 369.10C321.03 369.32 321.87 369.54 322.70 369.75C323.53 369.96 324.37 370.17 325.20 370.37C326.03 370.57 326.87 370.76 327.70 370.94C328.53 371.12 329.37 371.29 330.20 371.45C331.03 371.61 331.87 371.77 332.70 371.91C333.53 372.04 334.37 372.16 335.20 372.28" fill="none" stroke="#f00" stroke-width="1.7" stroke-linejoin="round" stroke-dasharray="5.8 4.2"/>
<path d="M62.70 230.92C63.26 230.92 64.64 230.94 65.20 230.95C65.76 230.97 67.14 231.04 67.70 231.08C68.26 231.11 69.64 231.23 70.20 231.29C70.76 231.34 72.14 231.51 72.70 231.58C73.26 231.66 74.64 231.88 75.20 231.97C75.76 232.07 77.14 232.34 77.70 232.45C78.26 232.57 79.64 232.89 80.20 233.03C80.76 233.17 82.14 233.54 82.70 233.70C83.26 233.86 84.64 234.28 85.20 234.46C85.76 234.65 87.14 235.13 87.70 235.33C88.26 235.53 89.64 236.07 90.20 236.29C90.76 236.52 92.14 237.11 92.70 237.36C93.26 237.61 94.64 238.26 95.20 238.53C95.76 238.80 97.14 239.51 97.70 239.81C98.26 240.10 99.64 240.87 100.20 241.19C100.76 241.51 102.14 242.34 102.70 242.68C103.26 243.02 104.64 243.90 105.20 244.26C105.76 244.63 107.14 245.56 107.70 245.94C108.26 246.32 109.64 247.30 110.20 247.70C110.76 248.10 112.14 249.11 112.70 249.53C113.26 249.94 114.64 250.99 115.20 251.42C115.76 251.85 117.14 252.93 117.70 253.36C118.26 253.80 119.64 254.91 120.20 255.36C120.76 255.80 122.14 256.94 122.70 257.39C123.26 257.85 124.64 259.01 125.20 259.48C125.76 259.94 127.14 261.12 127.70 261.60C128.26 262.08 129.64 263.28 130.20 263.77C130.76 264.25 132.14 265.48 132.70 265.98C133.26 266.47 134.64 267.73 135.20 268.23C135.76 268.74 137.14 270.01 137.70 270.52C138.26 271.04 139.64 272.33 140.20 272.86C140.76 273.38 142.14 274.70 142.70 275.23C143.26 275.76 144.64 277.11 145.20 277.65C145.76 278.19 147.14 279.57 147.70 280.13C148.26 280.68 149.64 282.09 150.20 282.66C150.76 283.23 152.14 284.67 152.70 285.25C153.26 285.83 154.64 287.30 155.20 287.90C155.76 288.49 157.14 289.98 157.70 290.58C158.26 291.19 159.64 292.70 160.20 293.31C160.76 293.92 161.56 294.84 162.70 296.06C163.84 297.27 168.41 302.27 170.50 304.25C172.59 306.23 179.94 312.35 181.55 313.90C183.16 315.45 183.58 316.79 185.00 318.20C186.42 319.61 192.30 324.67 194.30 326.55C196.30 328.43 201.26 333.66 203.00 335.10C204.74 336.54 208.54 338.46 210.00 339.50C211.46 340.54 214.38 343.17 216.10 344.50C217.82 345.83 223.93 350.50 225.50 351.50C227.07 352.50 228.98 352.72 230.20 353.50C231.42 354.28 234.92 357.54 236.50 358.50C238.08 359.46 242.60 361.32 244.40 362.10C246.20 362.88 251.01 364.63 252.70 365.55C254.39 366.47 258.06 369.63 259.60 370.40C261.14 371.17 265.01 371.99 266.55 372.50C268.09 373.01 271.95 374.53 273.50 375.00C275.05 375.47 278.96 376.20 280.50 376.70C282.04 377.20 285.73 378.99 287.40 379.50C289.07 380.01 293.66 380.95 295.50 381.30C297.34 381.65 302.29 382.35 304.00 382.65C305.71 382.95 309.59 383.79 310.90 384.00C312.21 384.21 314.49 384.27 315.80 384.50C317.11 384.73 320.54 385.80 322.70 386.10C324.86 386.40 332.42 386.96 335.20 387.20" fill="none" stroke="#00f" stroke-width="1.7" stroke-linejoin="round"/>
<path d="M62.70 236.78C63.53 236.78 64.37 236.76 65.20 236.77C66.03 236.77 66.87 236.79 67.70 236.83C68.53 236.86 69.37 236.91 70.20 236.97C71.03 237.03 71.87 237.10 72.70 237.20C73.53 237.29 74.37 237.39 75.20 237.52C76.03 237.64 76.87 237.78 77.70 237.94C78.53 238.09 79.37 238.27 80.20 238.46C81.03 238.65 81.87 238.86 82.70 239.09C83.53 239.31 84.37 239.56 85.20 239.83C86.03 240.09 86.87 240.38 87.70 240.68C88.53 240.99 89.37 241.31 90.20 241.66C91.03 242.00 91.87 242.37 92.70 242.75C93.53 243.14 94.37 243.55 95.20 243.98C96.03 244.41 96.87 244.87 97.70 245.34C98.53 245.82 99.37 246.32 100.20 246.84C101.03 247.36 101.87 247.91 102.70 248.47C103.53 249.03 104.37 249.62 105.20 250.22C106.03 250.81 106.87 251.43 107.70 252.05C108.53 252.68 109.37 253.31 110.20 253.95C111.03 254.60 111.87 255.25 112.70 255.90C113.53 256.55 114.37 257.21 115.20 257.86C116.03 258.51 116.87 259.17 117.70 259.81C118.53 260.46 119.37 261.10 120.20 261.75C121.03 262.39 121.87 263.02 122.70 263.66C123.53 264.30 124.37 264.94 125.20 265.58C126.03 266.23 126.87 266.87 127.70 267.52C128.53 268.17 129.37 268.83 130.20 269.49C131.03 270.15 131.87 270.82 132.70 271.51C133.53 272.19 134.37 272.88 135.20 273.58C136.03 274.29 136.87 275.01 137.70 275.74C138.53 276.47 139.37 277.22 140.20 277.99C141.03 278.75 141.87 279.54 142.70 280.33C143.53 281.13 144.37 281.94 145.20 282.77C146.03 283.59 146.87 284.43 147.70 285.28C148.53 286.12 149.37 286.98 150.20 287.84C151.03 288.71 151.87 289.58 152.70 290.45C153.53 291.33 154.37 292.21 155.20 293.09C156.03 293.97 156.87 294.85 157.70 295.73C158.53 296.62 159.37 297.50 160.20 298.38C161.03 299.25 161.87 300.13 162.70 301.00C163.53 301.87 164.37 302.73 165.20 303.58C166.03 304.44 166.87 305.28 167.70 306.12C168.53 306.95 169.37 307.78 170.20 308.59C171.03 309.39 171.87 310.19 172.70 310.97C173.53 311.75 174.37 312.52 175.20 313.26C176.03 314.00 176.87 314.73 177.70 315.43C178.53 316.14 179.37 316.82 180.20 317.51C181.03 318.20 181.87 318.88 182.70 319.59C183.53 320.30 184.37 321.02 185.20 321.79C186.03 322.55 186.87 323.36 187.70 324.17C188.53 324.98 189.37 325.83 190.20 326.66C191.03 327.48 191.87 328.33 192.70 329.13C193.53 329.94 194.37 330.73 195.20 331.50C196.03 332.26 196.87 333.00 197.70 333.73C198.53 334.45 199.37 335.15 200.20 335.85C201.03 336.54 201.87 337.21 202.70 337.87C203.53 338.53 204.37 339.18 205.20 339.82C206.03 340.47 206.87 341.10 207.70 341.73C208.53 342.36 209.37 342.98 210.20 343.60C211.03 344.22 211.87 344.84 212.70 345.45C213.53 346.06 214.37 346.66 215.20 347.26C216.03 347.86 216.87 348.46 217.70 349.05C218.53 349.64 219.37 350.22 220.20 350.79C221.03 351.37 221.87 351.94 222.70 352.50C223.53 353.06 224.37 353.61 225.20 354.16C226.03 354.70 226.87 355.24 227.70 355.76C228.53 356.29 229.37 356.81 230.20 357.32C231.03 357.83 231.87 358.33 232.70 358.82C233.53 359.30 234.37 359.78 235.20 360.25C236.03 360.72 236.87 361.18 237.70 361.62C238.53 362.06 239.37 362.50 240.20 362.92C241.03 363.34 241.87 363.75 242.70 364.15C243.53 364.54 244.37 364.93 245.20 365.31C246.03 365.68 246.87 366.05 247.70 366.41C248.53 366.77 249.37 367.13 250.20 367.48C251.03 367.84 251.87 368.19 252.70 368.54C253.53 368.89 254.37 369.24 255.20 369.59C256.03 369.94 256.87 370.29 257.70 370.66C258.53 371.02 259.37 371.38 260.20 371.75C261.03 372.13 261.87 372.52 262.70 372.90C263.53 373.28 264.37 373.67 265.20 374.04C266.03 374.41 266.87 374.78 267.70 375.11C268.53 375.45 269.37 375.76 270.20 376.05C271.03 376.34 271.87 376.60 272.70 376.85C273.53 377.10 274.37 377.33 275.20 377.56C276.03 377.78 276.87 377.99 277.70 378.19C278.53 378.40 279.37 378.59 280.20 378.78C281.03 378.98 281.87 379.17 282.70 379.36C283.53 379.55 284.37 379.74 285.20 379.93C286.03 380.12 286.87 380.31 287.70 380.49C288.53 380.68 289.37 380.86 290.20 381.04C291.03 381.22 291.87 381.40 292.70 381.58C293.53 381.76 294.37 381.93 295.20 382.10C296.03 382.28 296.87 382.45 297.70 382.62C298.53 382.78 299.37 382.95 300.20 383.11C301.03 383.28 301.87 383.44 302.70 383.60C303.53 383.75 304.37 383.91 305.20 384.06C306.03 384.21 306.87 384.36 307.70 384.51C308.53 384.66 309.37 384.80 310.20 384.94C311.03 385.08 311.87 385.22 312.70 385.35C313.53 385.48 314.37 385.61 315.20 385.74C316.03 385.87 316.87 385.99 317.70 386.11C318.53 386.23 319.37 386.34 320.20 386.45C321.03 386.57 321.87 386.67 322.70 386.78C323.53 386.88 324.37 386.98 325.20 387.07C326.03 387.17 326.87 387.26 327.70 387.35C328.53 387.43 329.37 387.52 330.20 387.59C331.03 387.67 331.87 387.74 332.70 387.81C333.53 387.88 334.37 387.94 335.20 388.00" fill="none" stroke="#00f" stroke-width="1.7" stroke-linejoin="round" stroke-dasharray="5.8 4.2"/>
<path d="M62.70 231.02C63.26 231.02 64.64 231.00 65.20 231.01C65.76 231.02 67.14 231.05 67.70 231.08C68.26 231.11 69.64 231.21 70.20 231.27C70.76 231.32 72.14 231.50 72.70 231.59C73.26 231.69 74.64 231.96 75.20 232.09C75.76 232.23 77.14 232.61 77.70 232.79C78.26 232.97 79.64 233.49 80.20 233.72C80.76 233.96 82.14 234.62 82.70 234.91C83.26 235.21 84.64 236.03 85.20 236.39C85.76 236.75 87.14 237.74 87.70 238.16C88.26 238.58 89.64 239.70 90.20 240.18C90.76 240.65 92.14 241.90 92.70 242.42C93.26 242.94 94.64 244.29 95.20 244.85C95.76 245.40 97.14 246.84 97.70 247.43C98.26 248.02 99.64 249.54 100.20 250.15C100.76 250.77 102.14 252.35 102.70 252.99C103.26 253.64 104.64 255.28 105.20 255.94C105.76 256.60 107.14 258.29 107.70 258.97C108.26 259.65 109.64 261.37 110.20 262.07C110.76 262.76 112.14 264.52 112.70 265.22C113.26 265.92 114.64 267.70 115.20 268.41C115.76 269.12 117.14 270.90 117.70 271.61C118.26 272.32 119.64 274.11 120.20 274.82C120.76 275.53 122.14 277.32 122.70 278.03C123.26 278.75 124.64 280.54 125.20 281.25C125.76 281.97 127.14 283.76 127.70 284.48C128.26 285.20 129.64 287.00 130.20 287.72C130.76 288.44 132.14 290.25 132.70 290.97C133.26 291.69 134.64 293.51 135.20 294.24C135.76 294.96 137.14 296.79 137.70 297.52C138.26 298.25 139.64 300.08 140.20 300.82C140.76 301.56 142.14 303.40 142.70 304.14C143.26 304.88 144.64 306.74 145.20 307.49C145.76 308.23 147.14 310.11 147.70 310.86C148.26 311.61 149.64 313.49 150.20 314.25C150.76 315.00 152.14 316.90 152.70 317.66C153.26 318.41 154.64 320.31 155.20 321.07C155.76 321.83 157.14 323.74 157.70 324.50C158.26 325.26 159.64 327.17 160.20 327.93C160.76 328.69 162.10 330.57 162.70 331.35C163.30 332.13 164.59 333.94 165.60 334.95C166.61 335.97 169.96 338.53 171.80 340.51C173.64 342.48 179.82 350.30 182.20 352.70C184.58 355.10 191.05 360.49 193.20 362.10C195.35 363.71 200.02 366.19 201.55 367.20C203.08 368.21 205.69 370.25 207.00 371.20C208.31 372.15 211.24 374.54 213.30 375.75C215.36 376.96 222.73 380.90 225.50 382.10C228.27 383.30 234.92 385.67 238.20 386.55C241.48 387.43 251.69 389.41 255.00 390.00C258.31 390.59 265.17 391.53 268.00 391.90C270.83 392.27 277.42 393.02 280.50 393.30C283.58 393.58 292.55 394.20 295.70 394.40C298.85 394.60 304.46 394.97 308.85 395.10C313.24 395.23 329.34 395.45 335.20 395.55" fill="none" stroke="#000" stroke-width="1.7" stroke-linejoin="round"/>
<path d="M62.70 239.38C63.53 239.38 64.37 239.41 65.20 239.48C66.03 239.54 66.87 239.64 67.70 239.77C68.53 239.90 69.37 240.06 70.20 240.25C71.03 240.43 71.87 240.65 72.70 240.90C73.53 241.15 74.37 241.43 75.20 241.74C76.03 242.04 76.87 242.38 77.70 242.74C78.53 243.11 79.37 243.50 80.20 243.91C81.03 244.33 81.87 244.78 82.70 245.25C83.53 245.72 84.37 246.22 85.20 246.74C86.03 247.27 86.87 247.82 87.70 248.39C88.53 248.96 89.37 249.56 90.20 250.18C91.03 250.81 91.87 251.45 92.70 252.12C93.53 252.79 94.37 253.49 95.20 254.20C96.03 254.92 96.87 255.65 97.70 256.41C98.53 257.17 99.37 257.95 100.20 258.75C101.03 259.56 101.87 260.38 102.70 261.22C103.53 262.06 104.37 262.93 105.20 263.81C106.03 264.69 106.87 265.59 107.70 266.50C108.53 267.42 109.37 268.35 110.20 269.30C111.03 270.25 111.87 271.22 112.70 272.20C113.53 273.18 114.37 274.17 115.20 275.18C116.03 276.19 116.87 277.21 117.70 278.24C118.53 279.28 119.37 280.32 120.20 281.38C121.03 282.44 121.87 283.50 122.70 284.58C123.53 285.66 124.37 286.75 125.20 287.84C126.03 288.94 126.87 290.04 127.70 291.15C128.53 292.26 129.37 293.38 130.20 294.50C131.03 295.63 131.87 296.76 132.70 297.89C133.53 299.02 134.37 300.16 135.20 301.31C136.03 302.45 136.87 303.59 137.70 304.74C138.53 305.88 139.37 307.02 140.20 308.16C141.03 309.29 141.87 310.42 142.70 311.54C143.53 312.65 144.37 313.76 145.20 314.85C146.03 315.94 146.87 317.02 147.70 318.07C148.53 319.13 149.37 320.16 150.20 321.18C151.03 322.20 151.87 323.20 152.70 324.20C153.53 325.20 154.37 326.19 155.20 327.18C156.03 328.17 156.87 329.15 157.70 330.14C158.53 331.14 159.37 332.13 160.20 333.14C161.03 334.14 161.87 335.16 162.70 336.18C163.53 337.19 164.37 338.21 165.20 339.21C166.03 340.21 166.87 341.21 167.70 342.18C168.53 343.15 169.37 344.10 170.20 345.02C171.03 345.95 171.87 346.85 172.70 347.73C173.53 348.61 174.37 349.46 175.20 350.29C176.03 351.13 176.87 351.94 177.70 352.73C178.53 353.52 179.37 354.28 180.20 355.03C181.03 355.78 181.87 356.51 182.70 357.22C183.53 357.93 184.37 358.62 185.20 359.30C186.03 359.98 186.87 360.65 187.70 361.30C188.53 361.95 189.37 362.59 190.20 363.22C191.03 363.85 191.87 364.46 192.70 365.07C193.53 365.68 194.37 366.28 195.20 366.88C196.03 367.47 196.87 368.05 197.70 368.63C198.53 369.20 199.37 369.77 200.20 370.32C201.03 370.88 201.87 371.43 202.70 371.96C203.53 372.50 204.37 373.02 205.20 373.54C206.03 374.05 206.87 374.55 207.70 375.04C208.53 375.53 209.37 376.01 210.20 376.48C211.03 376.94 211.87 377.40 212.70 377.84C213.53 378.28 214.37 378.71 215.20 379.12C216.03 379.53 216.87 379.93 217.70 380.32C218.53 380.70 219.37 381.08 220.20 381.44C221.03 381.79 221.87 382.14 222.70 382.47C223.53 382.81 224.37 383.13 225.20 383.44C226.03 383.75 226.87 384.04 227.70 384.33C228.53 384.62 229.37 384.89 230.20 385.16C231.03 385.43 231.87 385.68 232.70 385.93C233.53 386.17 234.37 386.41 235.20 386.64C236.03 386.86 236.87 387.08 237.70 387.29C238.53 387.50 239.37 387.70 240.20 387.90C241.03 388.09 241.87 388.28 242.70 388.46C243.53 388.64 244.37 388.81 245.20 388.97C246.03 389.14 246.87 389.30 247.70 389.45C248.53 389.61 249.37 389.76 250.20 389.90C251.03 390.05 251.87 390.19 252.70 390.32C253.53 390.46 254.37 390.59 255.20 390.71C256.03 390.84 256.87 390.96 257.70 391.08C258.53 391.20 259.37 391.32 260.20 391.43C261.03 391.55 261.87 391.66 262.70 391.76C263.53 391.87 264.37 391.97 265.20 392.08C266.03 392.18 266.87 392.27 267.70 392.37C268.53 392.46 269.37 392.55 270.20 392.64C271.03 392.73 271.87 392.82 272.70 392.90C273.53 392.98 274.37 393.06 275.20 393.14C276.03 393.22 276.87 393.29 277.70 393.36C278.53 393.43 279.37 393.50 280.20 393.57C281.03 393.64 281.87 393.70 282.70 393.77C283.53 393.83 284.37 393.89 285.20 393.95C286.03 394.00 286.87 394.06 287.70 394.11C288.53 394.17 289.37 394.22 290.20 394.27C291.03 394.32 291.87 394.36 292.70 394.41C293.53 394.46 294.37 394.50 295.20 394.54C296.03 394.58 296.87 394.62 297.70 394.66C298.53 394.70 299.37 394.74 300.20 394.78C301.03 394.81 301.87 394.85 302.70 394.88C303.53 394.91 304.37 394.94 305.20 394.97C306.03 395.00 306.87 395.03 307.70 395.06C308.53 395.09 309.37 395.11 310.20 395.14C311.03 395.16 311.87 395.19 312.70 395.21C313.53 395.23 314.37 395.26 315.20 395.28C316.03 395.30 316.87 395.32 317.70 395.34C318.53 395.36 319.37 395.38 320.20 395.40C321.03 395.42 321.87 395.44 322.70 395.45C323.53 395.47 324.37 395.49 325.20 395.51C326.03 395.52 326.87 395.54 327.70 395.56C328.53 395.57 329.37 395.59 330.20 395.61C331.03 395.62 331.87 395.64 332.70 395.65C333.53 395.67 334.37 395.68 335.20 395.70" fill="none" stroke="#000" stroke-width="1.7" stroke-linejoin="round" stroke-dasharray="5.8 4.2"/>
<text x="61.50" y="401.00" font-size="13.5" text-anchor="end">0.0</text>
<text x="61.50" y="367.92" font-size="13.5" text-anchor="end">0.2</text>
<text x="61.50" y="334.84" font-size="13.5" text-anchor="end">0.4</text>
<text x="61.50" y="301.76" font-size="13.5" text-anchor="end">0.6</text>
<text x="61.50" y="268.68" font-size="13.5" text-anchor="end">0.8</text>
<text x="61.50" y="235.60" font-size="13.5" text-anchor="end">1.0</text>
<text x="62.90" y="409.80" font-size="13.9" text-anchor="middle">0.0</text>
<text x="117.14" y="409.80" font-size="13.9" text-anchor="middle">0.1</text>
<text x="171.38" y="409.80" font-size="13.9" text-anchor="middle">0.2</text>
<text x="225.62" y="409.80" font-size="13.9" text-anchor="middle">0.3</text>
<text x="279.86" y="409.80" font-size="13.9" text-anchor="middle">0.4</text>
<text x="334.10" y="409.80" font-size="13.9" text-anchor="middle">0.5</text>
<text transform="translate(38.4 311.95) rotate(-90)" font-size="15.6" text-anchor="middle" stroke="#000" stroke-width="0.1">Concurrence</text>
<text x="192" y="429.50" font-size="16" font-style="italic">σ<tspan font-size="11.6" dx="0.7" dy="2.5">J</tspan></text>
<text x="306.9" y="252.35" font-size="15" text-anchor="middle">(b)</text>
</g>
</g>
</svg>
</body></html>
